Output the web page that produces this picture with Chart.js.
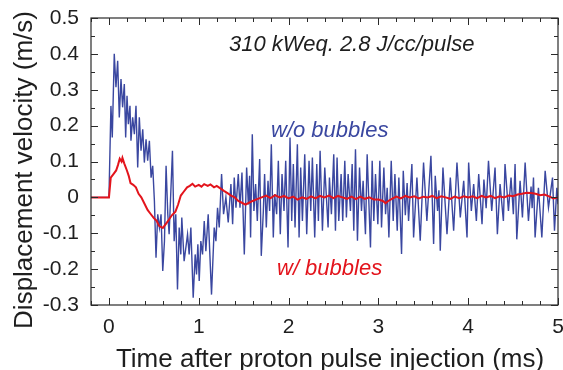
<!DOCTYPE html>
<html>
<head>
<meta charset="utf-8">
<title>Displacement velocity</title>
<script src="https://cdn.jsdelivr.net/npm/chart.js@4"></script>
<style>
    html, body { margin: 0; padding: 0; background: #fff; }
</style>
</head>
<body>
<canvas id="velChart" width="563" height="370"></canvas>

<script>
// w/o bubbles (blue) - turning points, time in ms
const blueTime = [
    -0.2, 0, 0.022, 0.037, 0.059, 0.078, 0.097, 0.115, 0.134, 0.152, 0.171, 0.186, 0.201, 0.216, 0.234, 0.245,
    0.264, 0.283, 0.301, 0.32, 0.338, 0.357, 0.376, 0.394, 0.413, 0.431, 0.45, 0.469, 0.487, 0.506, 0.524, 0.543,
    0.562, 0.58, 0.599, 0.618, 0.636, 0.655, 0.67, 0.707, 0.726, 0.744, 0.763, 0.782, 0.8, 0.811, 0.837, 0.875,
    0.893, 0.912, 0.938, 0.96, 0.975, 0.99, 1.005, 1.023, 1.042, 1.061, 1.079, 1.105, 1.142, 1.172, 1.191, 1.209,
    1.228, 1.254, 1.276, 1.302, 1.328, 1.358, 1.377, 1.395, 1.414, 1.44, 1.459, 1.481, 1.507, 1.533, 1.552, 1.566,
    1.577, 1.596, 1.614, 1.633, 1.652, 1.678, 1.696, 1.719, 1.733, 1.752, 1.771, 1.789, 1.808, 1.83, 1.845, 1.867,
    1.886, 1.908, 1.927, 1.949, 1.968, 1.994, 2.016, 2.035, 2.053, 2.072, 2.098, 2.117, 2.135, 2.154, 2.18, 2.202,
    2.228, 2.247, 2.265, 2.291, 2.314, 2.332, 2.351, 2.377, 2.403, 2.44, 2.455, 2.477, 2.503, 2.522, 2.54, 2.559,
    2.585, 2.603, 2.626, 2.644, 2.663, 2.689, 2.708, 2.726, 2.745, 2.767, 2.79, 2.812, 2.83, 2.856, 2.875, 2.912,
    2.931, 2.949, 2.968, 2.994, 3.016, 3.035, 3.061, 3.08, 3.098, 3.117, 3.143, 3.165, 3.184, 3.21, 3.228, 3.258,
    3.277, 3.3, 3.32, 3.336, 3.373, 3.392, 3.429, 3.466, 3.503, 3.54, 3.585, 3.615, 3.633, 3.659, 3.674, 3.689,
    3.719, 3.764, 3.801, 3.838, 3.875, 3.912, 3.95, 3.987, 4.005, 4.035, 4.061, 4.091, 4.117, 4.154, 4.175, 4.2,
    4.226, 4.262, 4.299, 4.325, 4.355, 4.392, 4.41, 4.448, 4.477, 4.503, 4.522, 4.541, 4.578, 4.604, 4.634, 4.671,
    4.7, 4.712, 4.727, 4.745, 4.782, 4.82, 4.857, 4.894, 4.939, 4.961, 4.987, 5.0
];
const blueVel = [
    0, 0, 0.255, 0.167, 0.40, 0.307, 0.381, 0.223, 0.33, 0.251, 0.316, 0.167, 0.283, 0.204, 0.255, 0.158,
    0.223, 0.176, 0.255, 0.083, 0.223, 0.13, 0.19, 0.097, 0.162, 0.102, 0.158, 0.055, 0.088, -0.01, -0.168, -0.047,
    -0.084, -0.047, -0.205, -0.122, 0.088, -0.047, -0.103, 0.13, -0.122, -0.047, -0.257, -0.084, -0.159, -0.056, -0.178, -0.103,
    -0.159, -0.084, -0.28, -0.159, -0.215, -0.131, -0.233, -0.122, -0.159, -0.066, -0.15, -0.047, -0.271, -0.084, -0.122, -0.029,
    -0.084, 0.065, -0.047, 0.0, -0.07, 0.037, -0.075, 0.055, -0.029, 0.065, -0.029, 0.069, -0.159, 0.083, -0.02, 0.06,
    -0.112, 0.176, -0.038, 0.037, -0.066, 0.107, -0.163, -0.038, 0.065, -0.084, 0.046, -0.038, 0.148, -0.112, 0.009, -0.047,
    0.102, -0.103, 0.065, -0.038, 0.102, -0.14, 0.167, -0.066, 0.093, -0.084, 0.148, -0.112, 0.083, -0.066, 0.12, -0.103,
    0.102, -0.038, 0.111, -0.112, 0.093, -0.066, 0.13, -0.093, 0.083, -0.084, 0.055, -0.047, 0.12, -0.093, 0.111, -0.066,
    0.065, -0.066, 0.102, -0.056, 0.065, -0.038, 0.093, -0.093, 0.134, -0.121, 0.083, -0.038, 0.046, -0.103, 0.12, -0.14,
    0.102, -0.066, 0.065, -0.075, 0.102, -0.084, 0.083, -0.047, 0.027, -0.112, 0.102, -0.066, 0.065, -0.093, 0.055, -0.158,
    0.074, -0.05, 0.04, -0.066, 0.093, -0.112, 0.055, -0.121, 0.097, -0.066, 0.116, -0.13, 0.06, -0.038, 0.02, -0.149,
    0.083, -0.103, 0.055, -0.093, 0.097, -0.056, 0.046, -0.112, 0.097, -0.038, 0.037, -0.066, 0.065, -0.075, 0.05, -0.03,
    0.102, -0.038, 0.083, -0.103, 0.037, -0.066, 0.093, -0.038, 0.055, -0.047, 0.093, -0.117, 0.046, -0.056, 0.097, -0.066,
    0.03, -0.03, 0.055, -0.112, 0.027, -0.112, 0.074, -0.028, 0.055, -0.093, 0.027, -0.019
];

// w/ bubbles (red)
const redTime = [
    -0.2, -0.1, 0, 0.02, 0.05, 0.08, 0.1, 0.12, 0.14, 0.15, 0.17, 0.2, 0.22, 0.24, 0.27, 0.3,
    0.33, 0.36, 0.4, 0.43, 0.46, 0.5, 0.53, 0.56, 0.6, 0.63, 0.66, 0.7, 0.74, 0.77, 0.8, 0.83,
    0.87, 0.9, 0.93, 0.96, 1.0, 1.03, 1.06, 1.1, 1.13, 1.17, 1.2, 1.24, 1.28, 1.32, 1.36, 1.4,
    1.44, 1.48, 1.52, 1.56, 1.6, 1.65, 1.7, 1.75, 1.8, 1.85, 1.9, 1.95, 2.0, 2.05, 2.1, 2.15,
    2.2, 2.25, 2.3, 2.35, 2.4, 2.45, 2.5, 2.55, 2.6, 2.65, 2.7, 2.75, 2.8, 2.85, 2.9, 2.95,
    3.0, 3.05, 3.08, 3.11, 3.15, 3.2, 3.25, 3.3, 3.35, 3.4, 3.45, 3.5, 3.55, 3.6, 3.65, 3.7,
    3.75, 3.8, 3.85, 3.9, 3.95, 4.0, 4.05, 4.1, 4.15, 4.2, 4.25, 4.3, 4.35, 4.4, 4.45, 4.5,
    4.55, 4.6, 4.65, 4.7, 4.75, 4.8, 4.85, 4.9, 4.95, 5.0
];
const redVel = [
    0, 0, 0, 0.055, 0.065, 0.075, 0.09, 0.108, 0.1, 0.11, 0.095, 0.075, 0.06, 0.04, 0.035, 0.028,
    0.01, 0.0, -0.02, -0.035, -0.045, -0.058, -0.065, -0.08, -0.085, -0.075, -0.065, -0.05, -0.04, -0.02, 0.005, 0.015,
    0.028, 0.032, 0.038, 0.03, 0.035, 0.03, 0.037, 0.032, 0.036, 0.028, 0.032, 0.025, 0.018, 0.012, 0.005, 0.0,
    -0.01, -0.015, -0.02, -0.015, -0.01, -0.005, 0.0, 0.005, -0.002, 0.006, 0.0, 0.004, -0.003, 0.002, -0.006, 0.0,
    -0.004, 0.003, -0.003, 0.004, 0.0, 0.005, -0.002, 0.004, 0.0, -0.004, 0.002, -0.005, 0.002, -0.004, 0.0, -0.006,
    -0.006, -0.01, -0.016, -0.01, -0.004, 0.002, -0.003, 0.004, 0.0, 0.003, -0.003, 0.002, 0.0, 0.004, -0.002, 0.003,
    0.0, -0.004, 0.002, -0.002, 0.003, 0.0, 0.003, -0.002, 0.004, 0.0, 0.004, -0.002, 0.003, 0.0, 0.005, 0.003,
    0.008, 0.01, 0.013, 0.012, 0.01, 0.006, 0.008, 0.003, -0.003, 0.0
];

const xTicks = [0, 1, 2, 3, 4, 5];
const yTicks = [-0.3, -0.2, -0.1, 0, 0.1, 0.2, 0.3, 0.4, 0.5];

const FONT = "'Liberation Sans', Arial, Helvetica, sans-serif";
const INK = '#1e1e1e';

function toPoints(ts, vs) {
    return ts.map((t, i) => ({ x: t, y: vs[i] }));
}

// frame with inward ticks on all four sides, plus the in-plot labels and axis titles
const frameAndText = {
    id: 'frameAndText',
    afterDatasetsDraw(chart) {
        const { ctx, chartArea: a, scales: { x, y } } = chart;
        ctx.save();
        ctx.strokeStyle = '#2a2a2a';
        ctx.lineWidth = 1.2;
        ctx.strokeRect(a.left, a.top, a.right - a.left, a.bottom - a.top);

        ctx.beginPath();
        for (let k = -1; k <= 25; k++) {          // x minor step 0.2
            const px = Math.round(x.getPixelForValue(k / 5)) + 0.5;
            const len = k % 5 === 0 ? 7 : 4;
            ctx.moveTo(px, a.bottom); ctx.lineTo(px, a.bottom - len);
            ctx.moveTo(px, a.top); ctx.lineTo(px, a.top + len);
        }
        for (let k = -6; k <= 10; k++) {          // y minor step 0.05
            const py = Math.round(y.getPixelForValue(k / 20)) + 0.5;
            const len = k % 2 === 0 ? 7 : 4;
            ctx.moveTo(a.left, py); ctx.lineTo(a.left + len, py);
            ctx.moveTo(a.right, py); ctx.lineTo(a.right - len, py);
        }
        ctx.lineWidth = 1;
        ctx.stroke();

        ctx.font = "italic 22px " + FONT;
        ctx.textBaseline = 'alphabetic';
        ctx.textAlign = 'left';
        ctx.fillStyle = INK;
        ctx.fillText('310 kWeq. 2.8 J/cc/pulse', 229, 51);
        ctx.fillStyle = '#3a47a0';
        ctx.fillText('w/o bubbles', 271, 137);
        ctx.fillStyle = '#e3141c';
        ctx.fillText('w/ bubbles', 277, 275);

        ctx.fillStyle = INK;
        ctx.font = "26px " + FONT;
        ctx.textAlign = 'center';
        ctx.fillText('Time after proton pulse injection (ms)', 330, 367);
        ctx.translate(32, 170);
        ctx.rotate(-Math.PI / 2);
        ctx.fillText('Displacement velocity (m/s)', 0, 0);
        ctx.restore();
    }
};

new Chart(document.getElementById('velChart'), {
    type: 'line',
    data: {
        datasets: [
            {
                label: 'w/ bubbles',
                data: toPoints(redTime, redVel),
                borderColor: '#e3141c',
                borderWidth: 2,
                order: 0
            },
            {
                label: 'w/o bubbles',
                data: toPoints(blueTime, blueVel),
                borderColor: '#3a47a0',
                borderWidth: 1.4,
                order: 1
            }
        ]
    },
    options: {
        responsive: false,
        animation: false,
        layout: { padding: { left: 0, right: 5, top: 18, bottom: 0 } },
        elements: { point: { radius: 0 }, line: { tension: 0, fill: false } },
        plugins: { legend: { display: false }, tooltip: { enabled: false } },
        scales: {
            x: {
                type: 'linear',
                min: -0.2,
                max: 5,
                afterBuildTicks: s => { s.ticks = xTicks.map(v => ({ value: v })); },
                afterFit: s => { s.height = 65; s.paddingLeft = 0; s.paddingRight = 0; },
                grid: { display: false, drawTicks: false },
                border: { display: false },
                ticks: { padding: 10, color: INK, maxRotation: 0, font: { family: FONT, size: 21 } }
            },
            y: {
                type: 'linear',
                min: -0.3,
                max: 0.5,
                afterBuildTicks: s => { s.ticks = yTicks.map(v => ({ value: v })); },
                afterFit: s => { s.width = 91; s.paddingTop = 0; s.paddingBottom = 0; },
                grid: { display: false, drawTicks: false },
                border: { display: false },
                ticks: {
                    padding: 12,
                    color: INK,
                    font: { family: FONT, size: 21 },
                    callback: v => (Math.abs(v) < 1e-9 ? '0' : v.toFixed(1))
                }
            }
        }
    },
    plugins: [frameAndText]
});
</script>
</body>
</html>
